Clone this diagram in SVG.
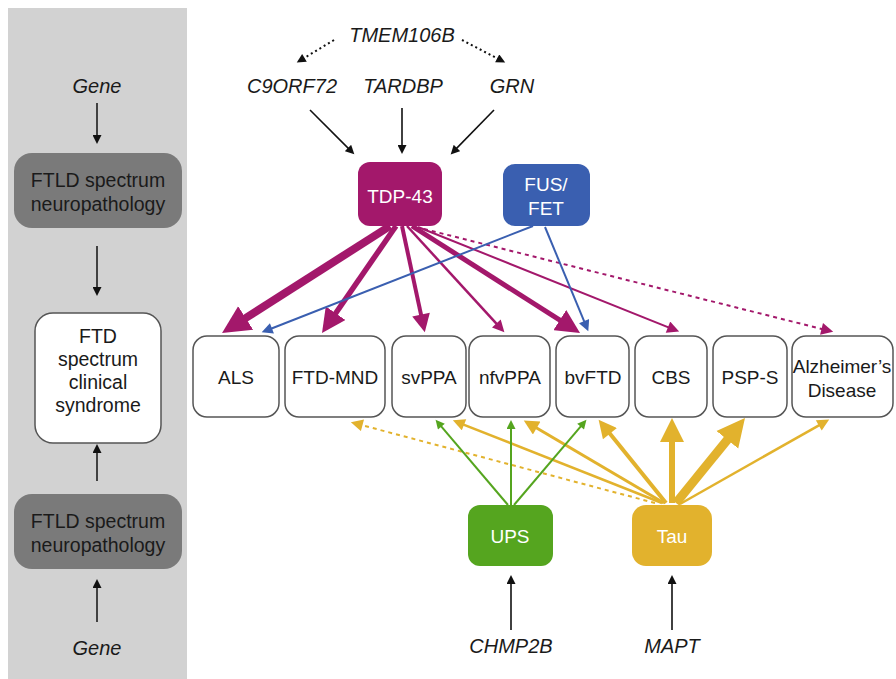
<svg xmlns="http://www.w3.org/2000/svg" width="896" height="679" viewBox="0 0 896 679">
<style>
text{font-family:"Liberation Sans",Arial,sans-serif;font-size:19px;text-anchor:middle;fill:#1a1a1a}
.it{font-style:italic;font-size:20px}
.lg{font-size:19.5px}
.w{fill:#fff}
.box{fill:#fff;stroke:#555;stroke-width:1.5}
.k{stroke:#111;fill:none}
.mg{stroke:#a3186b;fill:none}
.bl{stroke:#3a5fb0;fill:none}
.gd{stroke:#e2b22d;fill:none}
.gr{stroke:#55a51f;fill:none}
</style>
<defs>
<marker id="k10" viewBox="0 0 10 10" refX="1" refY="5" markerUnits="userSpaceOnUse" markerWidth="10" markerHeight="9" orient="auto"><path d="M0,0L10,5L0,10z" fill="#111"/></marker>
<marker id="m13" viewBox="0 0 10 10" refX="1" refY="5" markerUnits="userSpaceOnUse" markerWidth="13" markerHeight="12" orient="auto"><path d="M0,0L10,5L0,10z" fill="#a3186b"/></marker>
<marker id="m19" viewBox="0 0 10 10" refX="1" refY="5" markerUnits="userSpaceOnUse" markerWidth="19" markerHeight="18" orient="auto"><path d="M0,0L10,5L0,10z" fill="#a3186b"/></marker>
<marker id="m24" viewBox="0 0 10 10" refX="1" refY="5" markerUnits="userSpaceOnUse" markerWidth="24" markerHeight="24" orient="auto"><path d="M0,0L10,5L0,10z" fill="#a3186b"/></marker>
<marker id="m28" viewBox="0 0 10 10" refX="1" refY="5" markerUnits="userSpaceOnUse" markerWidth="28" markerHeight="30" orient="auto"><path d="M0,0L10,5L0,10z" fill="#a3186b"/></marker>
<marker id="b13" viewBox="0 0 10 10" refX="1" refY="5" markerUnits="userSpaceOnUse" markerWidth="13" markerHeight="11" orient="auto"><path d="M0,0L10,5L0,10z" fill="#3a5fb0"/></marker>
<marker id="g13" viewBox="0 0 10 10" refX="1" refY="5" markerUnits="userSpaceOnUse" markerWidth="13" markerHeight="12" orient="auto"><path d="M0,0L10,5L0,10z" fill="#e2b22d"/></marker>
<marker id="g16" viewBox="0 0 10 10" refX="1" refY="5" markerUnits="userSpaceOnUse" markerWidth="16" markerHeight="15" orient="auto"><path d="M0,0L10,5L0,10z" fill="#e2b22d"/></marker>
<marker id="g19" viewBox="0 0 10 10" refX="1" refY="5" markerUnits="userSpaceOnUse" markerWidth="19" markerHeight="18" orient="auto"><path d="M0,0L10,5L0,10z" fill="#e2b22d"/></marker>
<marker id="g24" viewBox="0 0 10 10" refX="1" refY="5" markerUnits="userSpaceOnUse" markerWidth="24" markerHeight="24" orient="auto"><path d="M0,0L10,5L0,10z" fill="#e2b22d"/></marker>
<marker id="g28" viewBox="0 0 10 10" refX="1" refY="5" markerUnits="userSpaceOnUse" markerWidth="28" markerHeight="30" orient="auto"><path d="M0,0L10,5L0,10z" fill="#e2b22d"/></marker>
<marker id="n10" viewBox="0 0 10 10" refX="1" refY="5" markerUnits="userSpaceOnUse" markerWidth="10" markerHeight="9" orient="auto"><path d="M0,0L10,5L0,10z" fill="#55a51f"/></marker>
</defs>

<rect x="8" y="8" width="179" height="671" fill="#d2d2d2"/>

<g id="legend">
<text class="it" x="97" y="93">Gene</text>
<g id="leg-path1"><rect x="14" y="153" width="168" height="75" rx="18" fill="#7a7a7a"/>
<text class="lg" x="98" y="187">FTLD spectrum</text><text class="lg" x="98" y="211">neuropathology</text></g>
<g id="leg-clin"><rect x="35" y="313" width="126" height="130" rx="18" class="box" stroke="#444"/>
<text class="lg" x="98" y="343">FTD</text><text class="lg" x="98" y="366">spectrum</text><text class="lg" x="98" y="389">clinical</text><text class="lg" x="98" y="412">syndrome</text></g>
<g id="leg-path2"><rect x="14" y="494" width="168" height="75" rx="18" fill="#7a7a7a"/>
<text class="lg" x="98" y="528">FTLD spectrum</text><text class="lg" x="98" y="552">neuropathology</text></g>
<text class="it" x="97" y="655">Gene</text>
</g>

<g id="genes">
<text class="it" x="402" y="42">TMEM106B</text>
<text class="it" x="292" y="93">C9ORF72</text>
<text class="it" x="403" y="93">TARDBP</text>
<text class="it" x="512" y="93">GRN</text>
<text class="it" x="511" y="653">CHMP2B</text>
<text class="it" x="672" y="653">MAPT</text>
</g>

<g id="connectors">
<line class="k" x1="97" y1="103" x2="97" y2="136" stroke-width="1.5" marker-end="url(#k10)"/>
<line class="k" x1="97" y1="246" x2="97" y2="288" stroke-width="1.5" marker-end="url(#k10)"/>
<line class="k" x1="97" y1="481" x2="97" y2="452" stroke-width="1.5" marker-end="url(#k10)"/>
<line class="k" x1="97" y1="622" x2="97" y2="587" stroke-width="1.5" marker-end="url(#k10)"/>

<line class="k" x1="334" y1="40" x2="303.7" y2="58.3" stroke-width="2" stroke-dasharray="2 3" marker-end="url(#k10)"/>
<line class="k" x1="462" y1="40" x2="498" y2="58.8" stroke-width="2" stroke-dasharray="2 3" marker-end="url(#k10)"/>
<line class="k" x1="310" y1="110" x2="348.6" y2="148.6" stroke-width="1.6" marker-end="url(#k10)"/>
<line class="k" x1="402" y1="108" x2="402" y2="146" stroke-width="1.6" marker-end="url(#k10)"/>
<line class="k" x1="494" y1="110" x2="456.3" y2="148.6" stroke-width="1.6" marker-end="url(#k10)"/>
<line class="k" x1="511" y1="630" x2="511" y2="583" stroke-width="1.6" marker-end="url(#k10)"/>
<line class="k" x1="672" y1="630" x2="672" y2="583" stroke-width="1.6" marker-end="url(#k10)"/>

<line class="mg" x1="390" y1="226" x2="243.3" y2="319.5" stroke-width="8" marker-end="url(#m28)"/>
<line class="mg" x1="396" y1="226" x2="334.3" y2="315.2" stroke-width="5.5" marker-end="url(#m24)"/>
<line class="mg" x1="402" y1="226" x2="421.4" y2="316.3" stroke-width="4" marker-end="url(#m19)"/>
<line class="mg" x1="407" y1="226" x2="497.1" y2="324.4" stroke-width="2.5" marker-end="url(#m13)"/>
<line class="mg" x1="412" y1="226" x2="561.8" y2="321.4" stroke-width="5" marker-end="url(#m24)"/>
<line class="mg" x1="418" y1="227" x2="669.1" y2="327.6" stroke-width="2" marker-end="url(#m13)"/>
<line class="mg" x1="424" y1="229" x2="822.7" y2="329.2" stroke-width="2" stroke-dasharray="4 4" marker-end="url(#m13)"/>

<line class="bl" x1="533" y1="226" x2="270.9" y2="328.7" stroke-width="2" marker-end="url(#b13)"/>
<line class="bl" x1="545" y1="227" x2="584.5" y2="322.2" stroke-width="2" marker-end="url(#b13)"/>

<line class="gd" x1="655" y1="503" x2="361.3" y2="425" stroke-width="2" stroke-dasharray="4 4" marker-end="url(#g13)"/>
<line class="gd" x1="662" y1="503" x2="462.9" y2="424.3" stroke-width="2.5" marker-end="url(#g13)"/>
<line class="gd" x1="664" y1="503" x2="535.4" y2="427.3" stroke-width="3" marker-end="url(#g16)"/>
<line class="gd" x1="666" y1="503" x2="608.8" y2="432.3" stroke-width="4" marker-end="url(#g19)"/>
<line class="gd" x1="672" y1="503" x2="672" y2="439.6" stroke-width="6" marker-end="url(#g24)"/>
<line class="gd" x1="676" y1="503" x2="729.1" y2="437.6" stroke-width="9" marker-end="url(#g28)"/>
<line class="gd" x1="680" y1="504" x2="819.8" y2="424.8" stroke-width="2.5" marker-end="url(#g13)"/>

<line class="gr" x1="508" y1="505" x2="440.8" y2="425.9" stroke-width="2" marker-end="url(#n10)"/>
<line class="gr" x1="511" y1="505" x2="511" y2="428" stroke-width="2" marker-end="url(#n10)"/>
<line class="gr" x1="514" y1="505" x2="581.2" y2="425.9" stroke-width="2" marker-end="url(#n10)"/>
</g>

<g id="tdp43"><rect x="358" y="162" width="84" height="64" rx="12" fill="#a3186b"/><text class="w" x="400" y="203">TDP-43</text></g>
<g id="fusfet"><rect x="503" y="164" width="87" height="62" rx="12" fill="#3a5fb0"/><text class="w" x="546" y="191">FUS/</text><text class="w" x="546" y="215">FET</text></g>
<g id="ups"><rect x="468" y="505" width="85" height="61" rx="12" fill="#55a51f"/><text class="w" x="510" y="543">UPS</text></g>
<g id="tau"><rect x="632" y="505" width="80" height="61" rx="14" fill="#e2b22d"/><text class="w" x="672" y="543">Tau</text></g>

<g id="als"><rect x="193" y="336" width="86" height="81" rx="14" class="box"/><text x="236" y="384">ALS</text></g>
<g id="ftdmnd"><rect x="285" y="336" width="100" height="81" rx="14" class="box"/><text x="335" y="384">FTD-MND</text></g>
<g id="svppa"><rect x="392" y="336" width="74" height="81" rx="14" class="box"/><text x="429" y="384">svPPA</text></g>
<g id="nfvppa"><rect x="469" y="336" width="81" height="81" rx="14" class="box"/><text x="510" y="384">nfvPPA</text></g>
<g id="bvftd"><rect x="556" y="336" width="73" height="81" rx="14" class="box"/><text x="593" y="384">bvFTD</text></g>
<g id="cbs"><rect x="635" y="336" width="72" height="81" rx="14" class="box"/><text x="671" y="384">CBS</text></g>
<g id="psps"><rect x="713" y="336" width="74" height="81" rx="14" class="box"/><text x="750" y="384">PSP-S</text></g>
<g id="ad"><rect x="792" y="336" width="101" height="81" rx="14" class="box"/><text x="842" y="373">Alzheimer’s</text><text x="842" y="397">Disease</text></g>
</svg>
